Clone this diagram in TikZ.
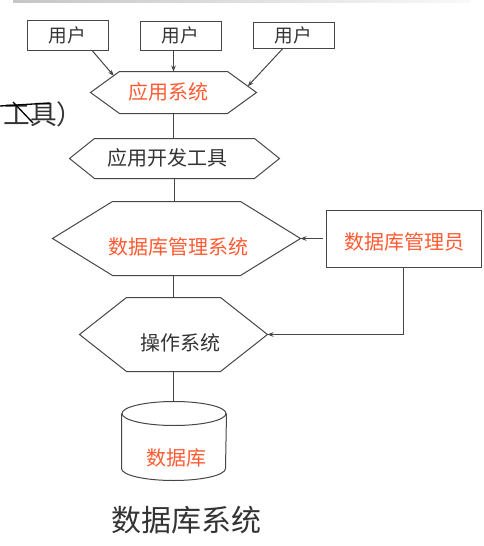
\documentclass[tikz,border=0pt]{standalone}
\usepackage{fontspec}
\setmainfont{Noto Sans CJK SC}
\usetikzlibrary{arrows.meta,calc}

\definecolor{txtgray}{RGB}{51,51,51}
\definecolor{txtred}{RGB}{255,90,50}
\definecolor{linegray}{RGB}{70,70,70}

\tikzset{every picture/.style={line width=0.75pt},
  box/.style={draw=linegray, inner sep=0pt, text=txtgray},
  hexbox/.style={inner sep=0pt},
  lbl/.style={inner sep=0.75pt, font=\fontsize{15pt}{18pt}\selectfont},
  usr/.style={font=\fontsize{14pt}{17pt}\selectfont},
  arr/.style={linegray, -{Stealth[length=4.5pt,width=3.5pt]}}}

% hexagon outline round a node: name, depth of the points
\newcommand\hexout[2]{%
  \coordinate (#1-tl) at ($(#1.north west)+(#2,0)$);
  \coordinate (#1-tr) at ($(#1.north east)+(-#2,0)$);
  \coordinate (#1-br) at ($(#1.south east)+(-#2,0)$);
  \coordinate (#1-bl) at ($(#1.south west)+(#2,0)$);
  \draw [linegray] (#1.west) -- (#1-tl) -- (#1-tr) -- (#1.east) -- (#1-br) -- (#1-bl) -- cycle ;}

\begin{document}
\begin{tikzpicture}[x=0.75pt,y=0.75pt,yscale=-1,xscale=1]
\useasboundingbox (0,0) rectangle (483,546);

%Straight Lines: rule at the top
\shade [left color=gray!45, right color=gray!5] (13,0.5) rectangle (470,2.5);

%Shape: Rectangle
\node (user1) [box, usr, minimum width=60.75pt, minimum height=22.5pt] at (67.5,35) {用户};
%Shape: Rectangle
\node (user2) [box, usr, minimum width=60.75pt, minimum height=21.75pt] at (180.5,35.5) {用户};
%Shape: Rectangle
\node (user3) [box, usr, minimum width=60.75pt, minimum height=19.5pt] at (293.5,35) {用户};

%Shape: Hexagon
\node (app) [hexbox, minimum width=123.75pt, minimum height=30.75pt] at (173.5,92.5) {};
\hexout{app}{29}
%Shape: Hexagon
\node (tool) [hexbox, minimum width=156.75pt, minimum height=29.25pt] at (174.5,158.5) {};
\hexout{tool}{25}
%Shape: Hexagon
\node (dbms) [hexbox, minimum width=185.25pt, minimum height=54.75pt] at (176.5,238.5) {};
\hexout{dbms}{60}
%Shape: Hexagon
\node (os) [hexbox, minimum width=140.25pt, minimum height=54.75pt] at (173.5,334.5) {};
\hexout{os}{47}

%Shape: Rectangle
\node (dba) [box, minimum width=116.25pt, minimum height=42.75pt] at (403.5,238.5) {};

%Shape: Can
\node (db) [hexbox, minimum width=78pt, minimum height=58.5pt] at (174,441) {};
\draw [linegray] ($(db.north)+(0,12)$) ellipse [x radius=52, y radius=12];
\draw [linegray] ($(db.north west)+(0,12)$) -- ($(db.south west)+(0,-12)$) arc [start angle=180, end angle=0, x radius=52, y radius=12] -- ($(db.north east)+(0,12)$);

%Straight Lines
\draw [arr] ($(user1.south west)!0.8!(user1.south east)$) -- ($(app.west)!0.8!(app-tl)$);
\draw [arr] (user2.south -| app.north) -- (app.north);
\draw [arr] ($(user3.south west)!0.37!(user3.south east)$) -- ($(app-tr)!0.7!(app.east)$);
\draw [linegray] (app.south) -- (app.south |- tool.north);
\draw [linegray] (tool.south) -- (tool.south |- dbms.north);
\draw [linegray] (dbms.south -| os.north) -- (os.north);
\draw [linegray] (os.south) -- (os.south |- db.north);
\draw [arr] ([xshift=-2pt]dba.west) -- (dbms.east);
\draw [arr] (dba.south) -- (dba.south |- os.east) -- (os.east);

% Text Node
\node (appT) [lbl, text=txtred] at (168,92) {应用系统};
% Text Node
\node (toolT) [lbl, text=txtgray] at (167,158) {应用开发工具};
% Text Node
\node (dbmsT) [lbl, text=txtred] at (178,247) {数据库管理系统};
% Text Node
\node (dbaT) [lbl, text=txtred] at (404,242) {数据库管理员};
% Text Node
\node (osT) [lbl, text=txtgray] at (180,343) {操作系统};
% Text Node
\node (dbT) [lbl, text=txtred] at (176,458) {数据库};
% Text Node
\node (title) [inner sep=0.75pt, text=txtgray, font=\fontsize{22.5pt}{27pt}\selectfont] at (186,520) {数据库系统};

% Text Node (cut off at the left)
\node (frag) [anchor=east, inner sep=0pt, text=txtgray, font=\fontsize{20pt}{24pt}\selectfont] at (84,114) {工具）};
\draw [black, line width=1pt] (0,106) -- (50,103) ;
\draw [black, line width=1pt] (13,102) -- (33,123) ;

\end{tikzpicture}
\end{document}
